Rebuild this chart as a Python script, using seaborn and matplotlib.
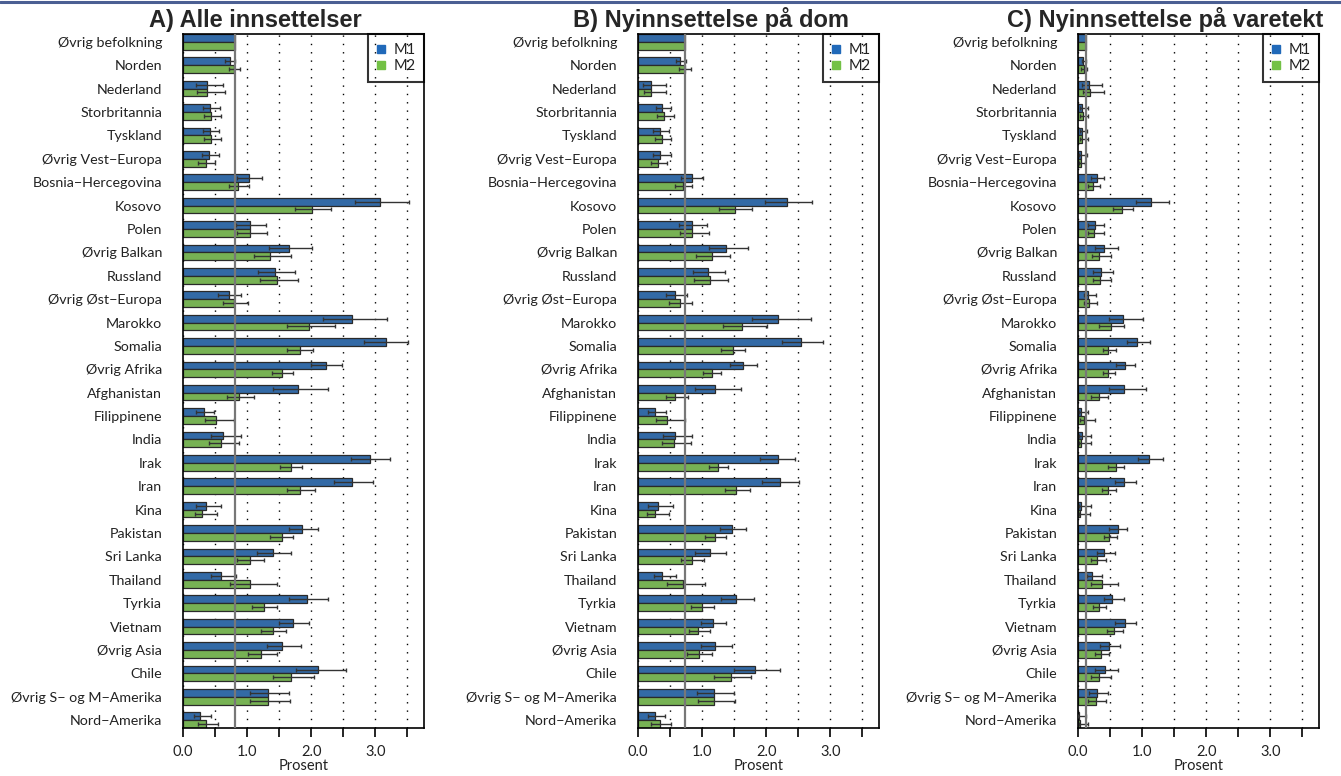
import numpy as np
import pandas as pd
import matplotlib
matplotlib.use("Agg")
import matplotlib.pyplot as plt
from matplotlib.lines import Line2D
import seaborn as sns

# ---------------- data ----------------
categories = ["Øvrig befolkning", "Norden", "Nederland", "Storbritannia", "Tyskland",
              "Øvrig Vest\u2212Europa", "Bosnia\u2212Hercegovina", "Kosovo", "Polen",
              "Øvrig Balkan", "Russland", "Øvrig Øst\u2212Europa", "Marokko", "Somalia",
              "Øvrig Afrika", "Afghanistan", "Filippinene", "India", "Irak", "Iran",
              "Kina", "Pakistan", "Sri Lanka", "Thailand", "Tyrkia", "Vietnam",
              "Øvrig Asia", "Chile", "Øvrig S\u2212 og M\u2212Amerika", "Nord\u2212Amerika"]
series = ["M1", "M2"]
panel_titles = ["A) Alle innsettelser", "B) Nyinnsettelse på dom", "C) Nyinnsettelse på varetekt"]
xtick_values = [0.0, 0.5, 1.0, 1.5, 2.0, 2.5, 3.0, 3.5]
xtick_labels = ["0.0", "", "1.0", "", "2.0", "", "3.0", ""]
x_label = "Prosent"
nan = np.nan

# Panel A: Alle innsettelser
a_m1 = [0.81, 0.73, 0.37, 0.42, 0.42, 0.40, 1.03, 3.07, 1.04, 1.65, 1.43, 0.71, 2.64, 3.16, 2.23,
        1.79, 0.32, 0.63, 2.91, 2.64, 0.36, 1.86, 1.40, 0.60, 1.93, 1.71, 1.55, 2.11, 1.32, 0.27]
a_m1_lo = [nan, 0.66, 0.20, 0.31, 0.31, 0.29, 0.85, 2.68, 0.83, 1.34, 1.17, 0.55, 2.18, 2.82, 1.99,
           1.41, 0.21, 0.43, 2.62, 2.35, 0.20, 1.65, 1.15, 0.43, 1.65, 1.49, 1.31, 1.76, 1.05, 0.17]
a_m1_hi = [nan, 0.81, 0.63, 0.57, 0.56, 0.56, 1.23, 3.53, 1.29, 2.02, 1.74, 0.91, 3.18, 3.51, 2.48,
           2.27, 0.49, 0.91, 3.23, 2.96, 0.60, 2.11, 1.68, 0.83, 2.26, 1.97, 1.84, 2.54, 1.66, 0.43]
a_m2 = [0.81, 0.80, 0.38, 0.44, 0.44, 0.36, 0.86, 2.01, 1.05, 1.36, 1.46, 0.79, 1.96, 1.82, 1.54,
        0.87, 0.52, 0.60, 1.68, 1.83, 0.30, 1.54, 1.05, 1.05, 1.26, 1.40, 1.22, 1.69, 1.33, 0.36]
a_m2_lo = [nan, 0.72, 0.22, 0.32, 0.32, 0.24, 0.72, 1.74, 0.84, 1.11, 1.20, 0.62, 1.62, 1.62, 1.39,
           0.68, 0.34, 0.41, 1.51, 1.62, 0.18, 1.35, 0.85, 0.74, 1.08, 1.21, 1.02, 1.41, 1.05, 0.23]
a_m2_hi = [nan, 0.89, 0.65, 0.60, 0.60, 0.50, 1.03, 2.31, 1.31, 1.68, 1.80, 1.01, 2.37, 2.03, 1.72,
           1.11, 0.80, 0.87, 1.86, 2.06, 0.53, 1.72, 1.27, 1.47, 1.47, 1.60, 1.46, 2.04, 1.67, 0.55]

# Panel B: Nyinnsettelse på dom
b_m1 = [0.73, 0.66, 0.20, 0.38, 0.35, 0.35, 0.84, 2.32, 0.84, 1.37, 1.09, 0.58, 2.19, 2.55, 1.64,
        1.20, 0.27, 0.58, 2.18, 2.21, 0.31, 1.47, 1.12, 0.38, 1.53, 1.17, 1.20, 1.82, 1.18, 0.27]
b_m1_lo = [nan, 0.59, 0.08, 0.28, 0.24, 0.24, 0.67, 1.98, 0.64, 1.10, 0.86, 0.43, 1.78, 2.25, 1.44,
           0.89, 0.16, 0.39, 1.91, 1.94, 0.16, 1.28, 0.89, 0.25, 1.29, 0.98, 0.98, 1.49, 0.92, 0.16]
b_m1_hi = [nan, 0.75, 0.43, 0.52, 0.48, 0.51, 1.02, 2.72, 1.08, 1.71, 1.36, 0.76, 2.70, 2.89, 1.86,
           1.61, 0.44, 0.85, 2.45, 2.51, 0.54, 1.68, 1.38, 0.59, 1.81, 1.38, 1.46, 2.22, 1.50, 0.42]
b_m2 = [0.73, 0.73, 0.20, 0.40, 0.37, 0.31, 0.70, 1.51, 0.85, 1.15, 1.12, 0.65, 1.63, 1.48, 1.15,
        0.58, 0.45, 0.56, 1.25, 1.53, 0.27, 1.20, 0.84, 0.70, 1.00, 0.94, 0.95, 1.45, 1.19, 0.34]
b_m2_lo = [nan, 0.64, 0.09, 0.29, 0.26, 0.21, 0.57, 1.27, 0.66, 0.90, 0.88, 0.49, 1.32, 1.30, 1.01,
           0.43, 0.28, 0.37, 1.10, 1.35, 0.14, 1.04, 0.67, 0.45, 0.83, 0.79, 0.77, 1.18, 0.93, 0.21]
b_m2_hi = [nan, 0.82, 0.43, 0.56, 0.51, 0.45, 0.85, 1.78, 1.10, 1.44, 1.41, 0.85, 2.01, 1.67, 1.29,
           0.78, 0.73, 0.82, 1.41, 1.74, 0.48, 1.38, 1.03, 1.05, 1.18, 1.12, 1.15, 1.77, 1.52, 0.52]

# Panel C: Nyinnsettelse på varetekt
c_m1 = [0.12, 0.08, 0.17, 0.07, 0.07, 0.05, 0.29, 1.14, 0.26, 0.41, 0.36, 0.16, 0.70, 0.92, 0.73,
        0.72, 0.04, 0.06, 1.10, 0.71, 0.05, 0.62, 0.41, 0.22, 0.53, 0.73, 0.48, 0.42, 0.30, 0.02]
c_m1_lo = [nan, 0.06, 0.07, 0.03, 0.03, 0.02, 0.20, 0.90, 0.16, 0.27, 0.24, 0.09, 0.49, 0.76, 0.59,
           0.49, 0.01, 0.01, 0.93, 0.57, 0.01, 0.49, 0.29, 0.14, 0.40, 0.58, 0.35, 0.27, 0.17, 0.00]
c_m1_hi = [nan, 0.12, 0.38, 0.15, 0.14, 0.14, 0.41, 1.42, 0.40, 0.63, 0.55, 0.28, 1.02, 1.13, 0.89,
           1.06, 0.16, 0.21, 1.32, 0.90, 0.20, 0.77, 0.58, 0.38, 0.71, 0.90, 0.66, 0.63, 0.47, 0.12]
c_m2 = [0.12, 0.09, 0.18, 0.08, 0.07, 0.04, 0.24, 0.68, 0.25, 0.33, 0.35, 0.17, 0.51, 0.47, 0.47,
        0.32, 0.10, 0.05, 0.59, 0.47, 0.03, 0.49, 0.30, 0.37, 0.33, 0.56, 0.36, 0.33, 0.28, 0.03]
c_m2_lo = [nan, 0.05, 0.08, 0.03, 0.03, 0.02, 0.16, 0.54, 0.15, 0.22, 0.23, 0.09, 0.33, 0.39, 0.39,
           0.21, 0.03, 0.01, 0.47, 0.38, 0.01, 0.40, 0.20, 0.21, 0.24, 0.45, 0.26, 0.21, 0.16, 0.01]
c_m2_hi = [nan, 0.14, 0.41, 0.16, 0.15, 0.11, 0.34, 0.86, 0.40, 0.51, 0.52, 0.29, 0.72, 0.60, 0.58,
           0.47, 0.27, 0.20, 0.71, 0.59, 0.18, 0.61, 0.43, 0.63, 0.44, 0.70, 0.49, 0.51, 0.44, 0.15]

panels = [
    (a_m1, a_m1_lo, a_m1_hi, a_m2, a_m2_lo, a_m2_hi),
    (b_m1, b_m1_lo, b_m1_hi, b_m2, b_m2_lo, b_m2_hi),
    (c_m1, c_m1_lo, c_m1_hi, c_m2, c_m2_lo, c_m2_hi),
]

# ---------------- style ----------------
sns.set_style("white")
plt.rcParams["font.family"] = ["Lato", "DejaVu Sans"]
BLUE = "#2069b9"
GREEN = "#73c145"
EDGE = "#2a2a2a"
TXT = "#222222"

W, H = 1341, 776
fig = plt.figure(figsize=(W / 100, H / 100), dpi=100)

axes_left_px = [183, 638, 1078]
title_center_px = [255, 711, 1165]
ax_w_px = 241
ax_top_px, ax_bot_px = 34, 728

for i, (m1, m1lo, m1hi, m2, m2lo, m2hi) in enumerate(panels):
    ax = fig.add_axes([axes_left_px[i] / W, 1 - ax_bot_px / H, ax_w_px / W,
                       (ax_bot_px - ax_top_px) / H])
    df = pd.DataFrame({
        "land": categories * 2,
        "modell": [series[0]] * len(categories) + [series[1]] * len(categories),
        "verdi": list(m1) + list(m2),
    })
    sns.barplot(data=df, x="verdi", y="land", hue="modell", order=categories,
                hue_order=series, palette=[BLUE, GREEN], orient="h", width=2 / 3,
                errorbar=None, edgecolor=EDGE, linewidth=0.9, legend=False,
                ax=ax, zorder=2)
    # error bars positioned on the bars drawn by seaborn
    for cont, vals, lo, hi in zip(ax.containers, [m1, m2], [m1lo, m2lo], [m1hi, m2hi]):
        yc = [p.get_y() + p.get_height() / 2 for p in cont.patches]
        v = np.asarray(vals, float)
        lo = np.asarray(lo, float)
        hi = np.asarray(hi, float)
        ax.errorbar(v, yc, xerr=[v - lo, hi - v], fmt="none", ecolor="#333333",
                    elinewidth=1.0, capsize=1.6, capthick=1.0, zorder=4)
    # reference line at the "Øvrig befolkning" level
    ax.axvline(m1[0], color="#777777", lw=1.6, zorder=5)

    ax.set_xlim(0, 3.76)
    ax.set_ylim(len(categories) - 1 + 1 / 3, -1 / 3)
    ax.set_xticks(xtick_values)
    ax.set_xticklabels(xtick_labels)
    ax.grid(axis="x", linestyle=(0, (1, 5)), color="black", lw=1.0, zorder=0)
    ax.grid(axis="y", visible=False)
    ax.set_axisbelow(True)
    ax.tick_params(axis="x", direction="out", length=6.5, width=1.2, pad=6,
                   labelsize=10.5, colors="black", labelcolor=TXT, bottom=True)
    ax.tick_params(axis="y", length=0, pad=15, labelsize=10.3, labelcolor=TXT)
    for s in ax.spines.values():
        s.set_visible(True)
        s.set_color("black")
        s.set_linewidth(1.2)
    ax.set_ylabel("")
    ax.set_xlabel(x_label, fontsize=10.5, color=TXT, labelpad=0)

    handles = [Line2D([], [], marker="s", linestyle="none", markersize=5.2,
                      markerfacecolor=c, markeredgecolor=c) for c in (BLUE, GREEN)]
    leg = ax.legend(handles, series, loc="upper right", borderaxespad=0,
                    fontsize=10.5, frameon=True, fancybox=False, borderpad=0.6,
                    labelspacing=0.15, handlelength=0.5, handletextpad=0.6)
    fr = leg.get_frame()
    fr.set_facecolor("none")
    fr.set_edgecolor("black")
    fr.set_linewidth(1.5)
    for t in leg.get_texts():
        t.set_color(TXT)
    leg.set_zorder(6)

    fig.text(title_center_px[i] / W, 1 - 20 / H, panel_titles[i], ha="center",
             va="center", fontsize=17, fontweight="bold",
             family=["Liberation Sans", "DejaVu Sans"])

# top rule
fig.add_artist(Line2D([0, 1], [1 - 1.5 / H, 1 - 1.5 / H], transform=fig.transFigure,
                      color="#4b5f93", lw=2.2))

fig.savefig("out.png", dpi=100)
